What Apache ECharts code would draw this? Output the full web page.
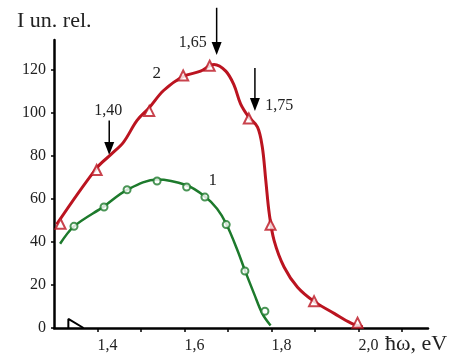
<!DOCTYPE html>
<html>
<head>
<meta charset="utf-8">
<script src="https://cdn.jsdelivr.net/npm/echarts@6/dist/echarts.min.js"></script>
<style>
  html, body { margin: 0; padding: 0; background: #fff; }
  #chart { width: 455px; height: 363px; }
</style>
</head>
<body>
<div id="chart"></div>
<script>
// curve 2 (red, triangles)
const redMarkX = [1.315, 1.398, 1.519, 1.597, 1.658, 1.748, 1.798, 1.898, 1.998];
const redMarkY = [48.5, 73.5, 101, 117.5, 122, 97.5, 48, 12.5, 2.5];
const redCurveX = [1.306, 1.398, 1.433, 1.46, 1.491, 1.519, 1.552, 1.597, 1.637, 1.668, 1.695, 1.714, 1.729, 1.748, 1.768, 1.779, 1.787, 1.795, 1.806, 1.829, 1.86, 1.898, 1.945, 1.983, 2.01];
const redCurveY = [48.2, 74.4, 81.1, 86.5, 96.6, 102.5, 110.5, 117, 119.5, 122.6, 119.5, 113, 104.3, 98.1, 93.5, 84.2, 68.7, 53.2, 40.8, 28.4, 19, 12.4, 6.7, 2.3, 0.5];

// curve 1 (green, circles)
const greenMarkX = [1.346, 1.415, 1.468, 1.537, 1.605, 1.647, 1.696, 1.739, 1.785];
const greenMarkY = [47.3, 56.3, 64.3, 68.4, 65.6, 60.9, 48.1, 26.5, 7.8];
const greenCurveX = [1.314, 1.346, 1.415, 1.468, 1.537, 1.605, 1.647, 1.675, 1.696, 1.722, 1.739, 1.76, 1.779, 1.798];
const greenCurveY = [39.2, 47.3, 56.6, 64.3, 69.1, 66.4, 61.2, 55.5, 48.5, 36.1, 26.8, 16, 6.7, 1.2];

// small stroke near the origin
const kinkX = [1.333, 1.333, 1.368];
const kinkY = [0, 4.2, 0];

const yTicks = [0, 20, 40, 60, 80, 100, 120];
const xTicks = [1.4, 1.5, 1.6, 1.7, 1.8, 1.9, 2.0, 2.1];
const xLabels = [1.4, 1.6, 1.8, 2.0];

// arrows: [x, yTop, yTip, label, labelX, labelY]
const arrows = [
  [1.427, 96.5, 80.5, '1,40', 1.425, 101],
  [1.674, 149, 127, '1,65', 1.619, 132.5],
  [1.762, 121, 101, '1,75', 1.818, 103.5]
];
const curveNames = [['2', 1.536, 118.5], ['1', 1.665, 68.5]];

const RED = '#bb1420';
const GREEN = '#1d7a2c';
const FONT = 'Liberation Serif';

const zip = (xs, ys) => xs.map((x, i) => [x, ys[i]]);

const chart = echarts.init(document.getElementById('chart'));
chart.setOption({
  animation: false,
  grid: { left: 54, right: 27, top: 40, bottom: 35 },
  xAxis: {
    type: 'value',
    min: 1.3,
    max: 2.16,
    axisLine: { lineStyle: { color: '#000', width: 2.5 } },
    axisTick: { customValues: xTicks, length: 4, lineStyle: { color: '#000', width: 1.5 } },
    axisLabel: {
      customValues: xLabels,
      align: 'left',
      margin: 10,
      color: '#222',
      fontFamily: FONT,
      fontSize: 16,
      formatter: v => v.toFixed(1).replace('.', ',')
    },
    splitLine: { show: false }
  },
  yAxis: {
    type: 'value',
    min: 0,
    max: 134,
    axisLine: { show: true, lineStyle: { color: '#000', width: 2.5 } },
    axisTick: { show: true, customValues: yTicks, length: 3, lineStyle: { color: '#000', width: 1.5 } },
    axisLabel: {
      customValues: yTicks,
      margin: 8,
      color: '#222',
      fontFamily: FONT,
      fontSize: 16
    },
    splitLine: { show: false }
  },
  series: [
    {
      type: 'line',
      data: zip(redCurveX, redCurveY),
      smooth: 0.35,
      showSymbol: false,
      lineStyle: { color: RED, width: 3 },
      z: 3
    },
    {
      type: 'scatter',
      data: zip(redMarkX, redMarkY),
      symbol: 'triangle',
      symbolSize: 10,
      itemStyle: { color: '#fff', borderColor: RED, borderWidth: 2 },
      z: 4
    },
    {
      type: 'line',
      data: zip(greenCurveX, greenCurveY),
      smooth: 0.35,
      showSymbol: false,
      lineStyle: { color: GREEN, width: 2.5 },
      z: 3
    },
    {
      type: 'scatter',
      data: zip(greenMarkX, greenMarkY),
      symbol: 'circle',
      symbolSize: 7,
      itemStyle: { color: '#fff', borderColor: GREEN, borderWidth: 2 },
      z: 4
    },
    {
      type: 'line',
      data: zip(kinkX, kinkY),
      showSymbol: false,
      lineStyle: { color: '#000', width: 2 },
      z: 2
    }
  ],
  graphic: [
    {
      type: 'text', left: 17, top: 10,
      style: { text: 'I un. rel.', font: '22px "Liberation Serif"', fill: '#222' }
    },
    {
      type: 'text', left: 385, top: 333,
      style: { text: 'ħω, eV', font: '22px "Liberation Serif"', fill: '#222' }
    }
  ]
});

// arrows and in-plot labels, placed through the axes
const extra = [];
arrows.forEach(a => {
  const top = chart.convertToPixel({ gridIndex: 0 }, [a[0], a[1]]);
  const tip = chart.convertToPixel({ gridIndex: 0 }, [a[0], a[2]]);
  extra.push({
    type: 'line',
    shape: { x1: top[0], y1: top[1], x2: tip[0], y2: tip[1] - 10 },
    style: { stroke: '#000', lineWidth: 1.5 }
  });
  extra.push({
    type: 'polygon',
    shape: { points: [[tip[0] - 5, tip[1] - 13], [tip[0] + 5, tip[1] - 13], [tip[0], tip[1]]] },
    style: { fill: '#000' }
  });
  const lp = chart.convertToPixel({ gridIndex: 0 }, [a[4], a[5]]);
  extra.push({
    type: 'text', x: lp[0], y: lp[1],
    style: { text: a[3], font: '16px "Liberation Serif"', fill: '#222', align: 'center', verticalAlign: 'middle' }
  });
});
curveNames.forEach(c => {
  const p = chart.convertToPixel({ gridIndex: 0 }, [c[1], c[2]]);
  extra.push({
    type: 'text', x: p[0], y: p[1],
    style: { text: c[0], font: '17px "Liberation Serif"', fill: '#222', align: 'center', verticalAlign: 'middle' }
  });
});
const opt = chart.getOption();
chart.setOption({ graphic: opt.graphic[0].elements.concat(extra) }, { replaceMerge: ['graphic'] });
</script>
</body>
</html>
